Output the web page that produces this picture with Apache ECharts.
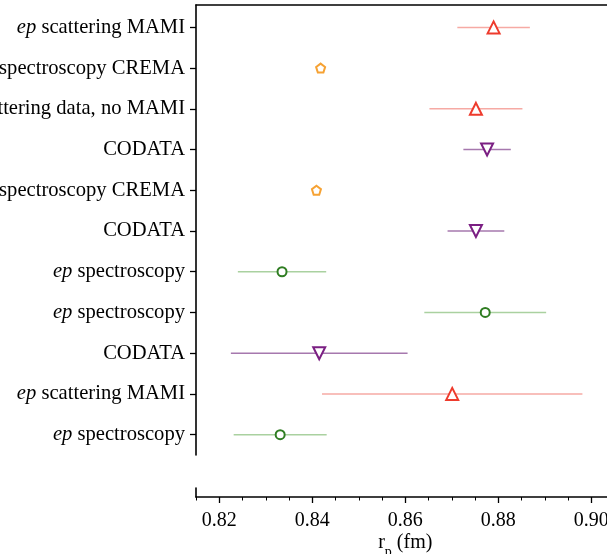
<!DOCTYPE html>
<html>
<head>
<meta charset="utf-8">
<script src="https://cdn.jsdelivr.net/npm/echarts@6/dist/echarts.min.js"></script>
<style>
html,body{margin:0;padding:0;background:#fff;}
#c{width:607px;height:554px;}
</style>
</head>
<body>
<div id="c"></div>
<script>
// ---- data ----
const categories = [
  'ep scattering MAMI',
  'μp spectroscopy CREMA',
  'ep scattering data, no MAMI',
  'CODATA',
  'μp spectroscopy CREMA',
  'CODATA',
  'ep spectroscopy',
  'ep spectroscopy',
  'CODATA',
  'ep scattering MAMI',
  'ep spectroscopy'
];
const rpValues = [0.8790, 0.8418, 0.8752, 0.8776, 0.8409, 0.8752, 0.8335, 0.8772, 0.8415, 0.8701, 0.8331];
const rpErrors = [0.0078, 0.0007, 0.0100, 0.0051, 0.0004, 0.0061, 0.0095, 0.0131, 0.0190, 0.0280, 0.0100];
const groups   = ['scat', 'mu', 'scat', 'codata', 'mu', 'codata', 'spec', 'spec', 'codata', 'scat', 'spec'];
const majorTicks = [0.82, 0.84, 0.86, 0.88, 0.90];
const minorTicks = [0.815, 0.825, 0.83, 0.835, 0.845, 0.85, 0.855, 0.865, 0.87, 0.875, 0.885, 0.89, 0.895, 0.905];
const rowPositions = categories.map((_, i) => i);

// ---- styles ----
const groupStyle = {
  scat:   {marker: '#ee3b2d', bar: '#f6aaa4', symbol: 'triangle', rotate: 0,   size: 12},
  mu:     {marker: '#f6a233', bar: '#f8cf94', symbol: 'path://M0,-1 L0.951,-0.309 L0.588,0.809 L-0.588,0.809 L-0.951,-0.309 Z', rotate: 0, size: 9},
  codata: {marker: '#7b1f83', bar: '#a678ae', symbol: 'triangle', rotate: 180, size: 12},
  spec:   {marker: '#2f7d22', bar: '#aad1a0', symbol: 'circle',   rotate: 0,   size: 9}
};
const FONT = 'Liberation Serif';
const X_MIN = 0.815, X_MAX = 0.905;

function labelRich(i) {
  const t = categories[i];
  if (t === undefined) return '';
  const m = t.match(/^(ep|μp)( .*)$/);
  if (m) return '{i|' + m[1] + '}{n|' + m[2] + '}';
  return '{n|' + t + '}';
}

const series = [];
Object.keys(groupStyle).forEach(g => {
  const st = groupStyle[g];
  const barData = [], ptData = [];
  rpValues.forEach((v, i) => {
    if (groups[i] !== g) return;
    barData.push([v - rpErrors[i], v + rpErrors[i], rowPositions[i]]);
    ptData.push([v, rowPositions[i]]);
  });
  series.push({
    type: 'custom',
    xAxisIndex: 0, yAxisIndex: 0,
    encode: {x: [0, 1], y: 2},
    data: barData,
    z: 2,
    silent: true,
    renderItem: function (params, api) {
      const y = api.value(2);
      const p1 = api.coord([api.value(0), y]);
      const p2 = api.coord([api.value(1), y]);
      return {
        type: 'line',
        shape: {x1: p1[0], y1: p1[1], x2: p2[0], y2: p2[1]},
        style: {stroke: st.bar, lineWidth: 1.5}
      };
    }
  });
  series.push({
    type: 'scatter',
    xAxisIndex: 0, yAxisIndex: 0,
    data: ptData,
    symbol: st.symbol,
    symbolRotate: st.rotate,
    symbolSize: st.size,
    z: 3,
    silent: true,
    itemStyle: {color: '#ffffff', borderColor: st.marker, borderWidth: 2, opacity: 1}
  });
});

const chart = echarts.init(document.getElementById('c'), null, {renderer: 'canvas'});
chart.setOption({
  animation: false,
  backgroundColor: '#ffffff',
  grid: [
    {left: 196, top: 5, width: 418.5, height: 450, containLabel: false, outerBoundsMode: 'none'},
    {left: 196, top: 488, width: 418.5, height: 9, containLabel: false, outerBoundsMode: 'none'}
  ],
  xAxis: [
    {
      gridIndex: 0, type: 'value', position: 'top', min: X_MIN, max: X_MAX,
      axisLine: {show: true, onZero: false, lineStyle: {color: '#000', width: 1.6}},
      axisTick: {show: false}, axisLabel: {show: false}, splitLine: {show: false}
    },
    {
      gridIndex: 1, type: 'value', position: 'bottom', min: X_MIN, max: X_MAX,
      axisLine: {show: true, onZero: false, lineStyle: {color: '#000', width: 1.6}},
      axisTick: {show: true, customValues: majorTicks, length: 6, lineStyle: {color: '#000', width: 1.3}},
      axisLabel: {show: true, customValues: majorTicks, margin: 14, color: '#000',
        fontFamily: FONT, fontSize: 20,
        formatter: v => v.toFixed(2)},
      splitLine: {show: false},
      name: '{r|r}{s|p}{r| (fm)}',
      nameLocation: 'middle',
      nameGap: 36,
      nameTextStyle: {
        rich: {
          r: {fontFamily: FONT, fontSize: 20, color: '#000'},
          s: {fontFamily: FONT, fontSize: 14, color: '#000', verticalAlign: 'bottom', padding: [0, 0, -6, 0]}
        }
      }
    },
    {
      gridIndex: 1, type: 'value', position: 'bottom', min: X_MIN, max: X_MAX,
      axisLine: {show: false, onZero: false},
      axisTick: {show: true, customValues: minorTicks, length: 3.5, lineStyle: {color: '#000', width: 1}},
      axisLabel: {show: false}, splitLine: {show: false}
    }
  ],
  yAxis: [
    {
      gridIndex: 0, type: 'value', min: -0.55, max: 10.5, inverse: true,
      axisLine: {show: true, onZero: false, lineStyle: {color: '#000', width: 1.6}},
      axisTick: {show: true, customValues: rowPositions, length: 6, lineStyle: {color: '#000', width: 1.3}},
      axisLabel: {
        show: true, margin: 11, customValues: rowPositions,
        formatter: (val) => labelRich(Math.round(val)),
        rich: {
          i: {fontFamily: FONT, fontSize: 20.6, fontStyle: 'italic', color: '#000'},
          n: {fontFamily: FONT, fontSize: 20.6, color: '#000'}
        }
      },
      splitLine: {show: false}
    },
    {
      gridIndex: 1, type: 'value', min: 0, max: 1,
      axisLine: {show: true, onZero: false, lineStyle: {color: '#000', width: 1.6}},
      axisTick: {show: false}, axisLabel: {show: false}, splitLine: {show: false}
    }
  ],
  series: series
});
</script>
</body>
</html>
